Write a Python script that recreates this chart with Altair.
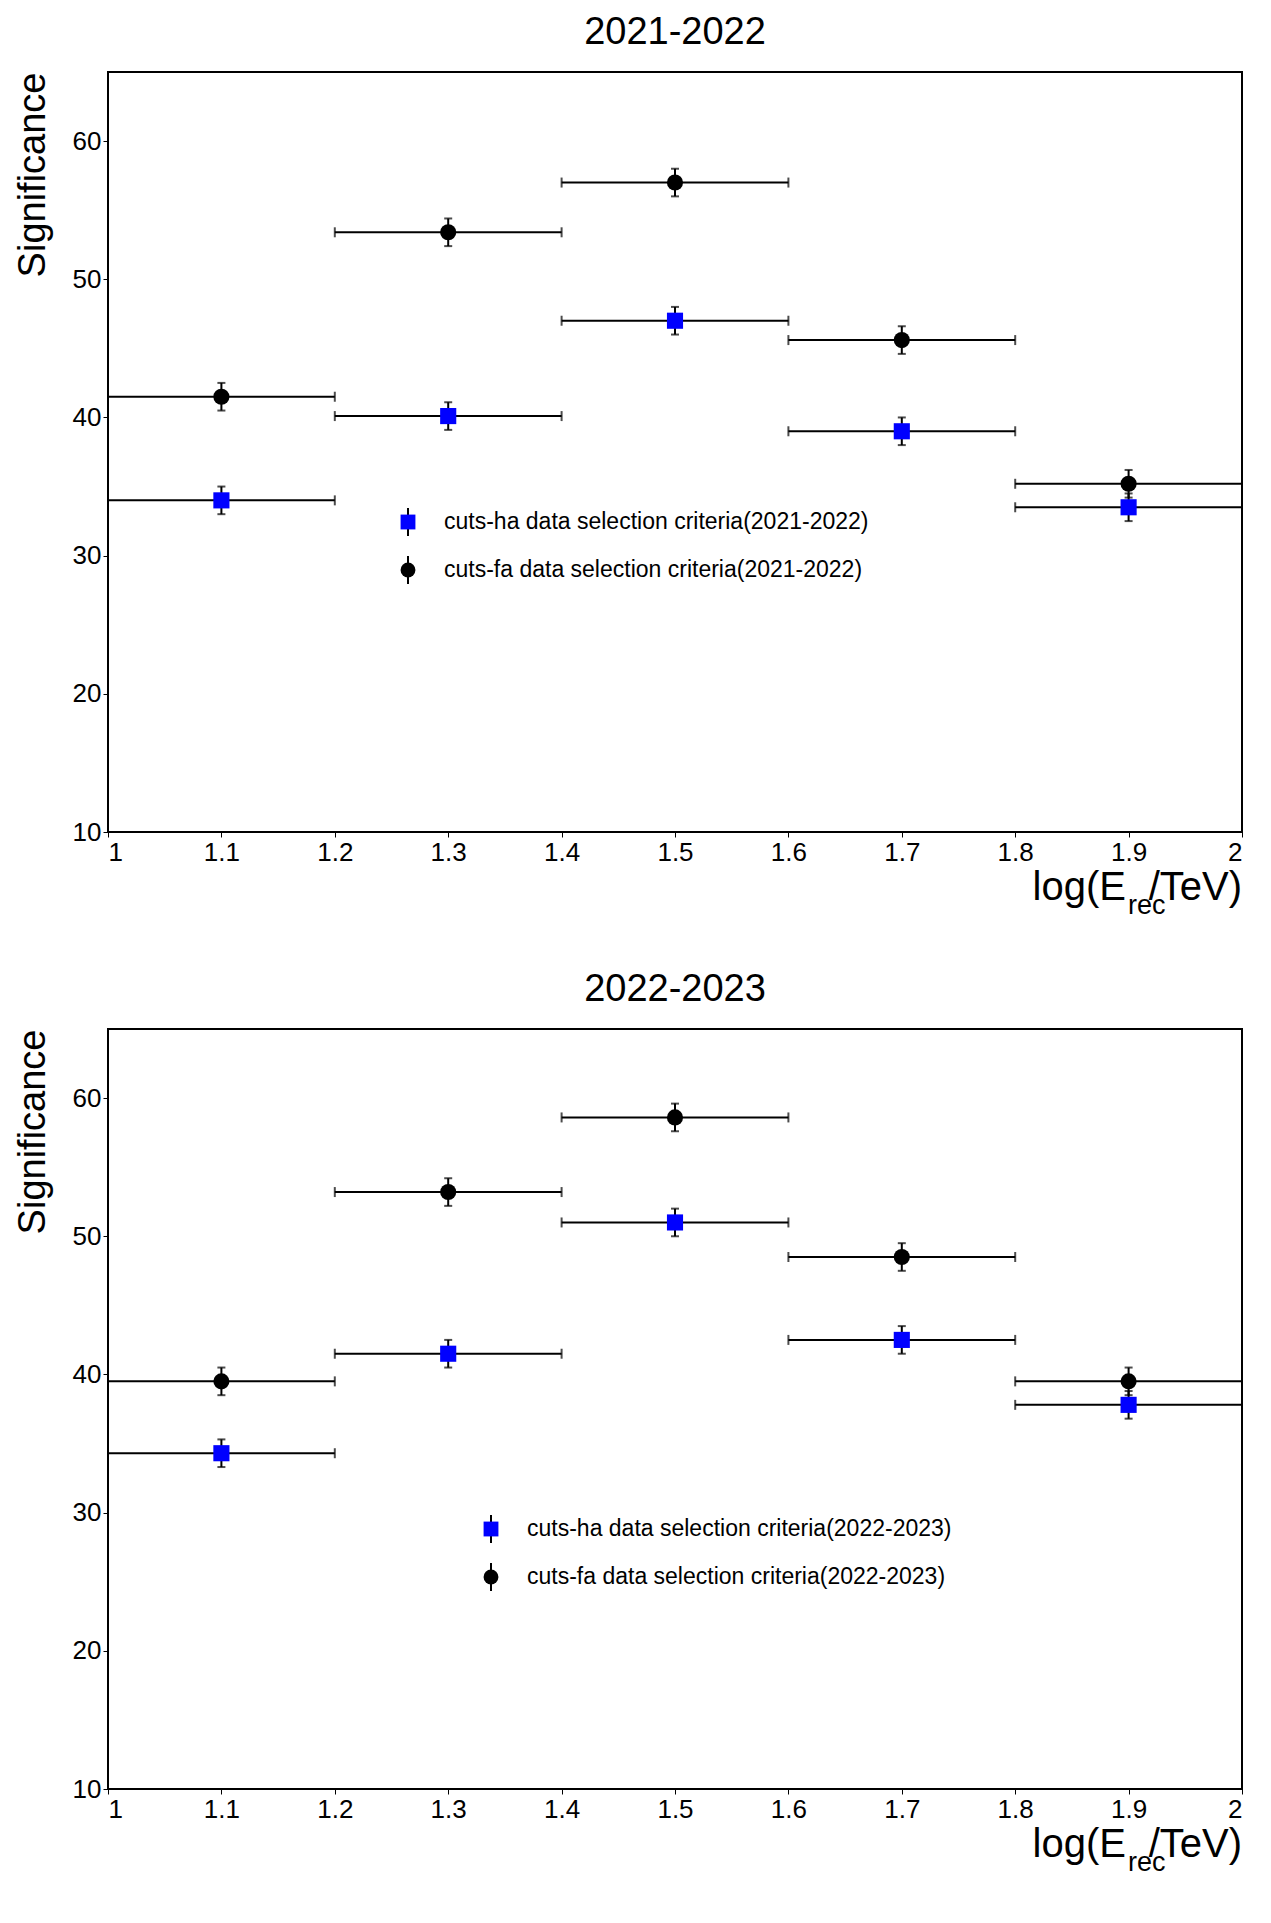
import altair as alt
import pandas as pd

energy = [1.1, 1.3, 1.5, 1.7, 1.9]
half_bin = 0.1
ha_2122 = [34.0, 40.1, 47.0, 39.0, 33.5]
fa_2122 = [41.5, 53.4, 57.0, 45.6, 35.2]
ha_2223 = [34.3, 41.5, 51.0, 42.5, 37.8]
fa_2223 = [39.5, 53.2, 58.6, 48.5, 39.5]
err = 1.0

W, H = 1134, 760


def panel(title, ha, fa, period, lx, ly):
    rows = []
    for name, vals in [("ha", ha), ("fa", fa)]:
        for e, v in zip(energy, vals):
            rows.append({"s": name, "x": e, "x0": e - half_bin, "x1": e + half_bin,
                         "y": v, "y0": v - err, "y1": v + err})
    df = pd.DataFrame(rows)
    base = alt.Chart(df)
    xs = alt.Scale(domain=[1, 2], nice=False)
    ys = alt.Scale(domain=[10, 65], nice=False)
    xax = alt.Axis(values=[1, 1.1, 1.2, 1.3, 1.4, 1.5, 1.6, 1.7, 1.8, 1.9, 2], format="~g",
                   title=None, grid=False, labelFontSize=26, labelColor="black",
                   tickColor="black", domainColor="black", labelFont="Liberation Sans")
    yax = alt.Axis(values=[10, 20, 30, 40, 50, 60], title="Significance", grid=False,
                   labelFontSize=26, titleFontSize=38, titleFontWeight="normal",
                   titleColor="black", labelColor="black", tickColor="black",
                   domainColor="black", labelFont="Liberation Sans",
                   titleFont="Liberation Sans", titlePadding=20, titleAnchor="end")
    color = alt.Color("s:N", scale=alt.Scale(domain=["ha", "fa"], range=["#0000ff", "black"]),
                      legend=None)
    shape = alt.Shape("s:N", scale=alt.Scale(domain=["ha", "fa"], range=["square", "circle"]),
                      legend=None)
    hbar = base.mark_rule(color="black", strokeWidth=2).encode(
        x=alt.X("x0:Q", scale=xs, axis=xax), x2="x1", y=alt.Y("y:Q", scale=ys, axis=yax))
    vbar = base.mark_rule(color="black", strokeWidth=2).encode(x="x:Q", y="y0:Q", y2="y1")
    capx0 = base.mark_tick(color="black", orient="vertical", size=10, thickness=2).encode(x="x0:Q", y="y:Q")
    capx1 = base.mark_tick(color="black", orient="vertical", size=10, thickness=2).encode(x="x1:Q", y="y:Q")
    capy0 = base.mark_tick(color="black", orient="horizontal", size=8, thickness=2).encode(x="x:Q", y="y0:Q")
    capy1 = base.mark_tick(color="black", orient="horizontal", size=8, thickness=2).encode(x="x:Q", y="y1:Q")
    pts = base.mark_point(filled=True, size=260, opacity=1).encode(
        x="x:Q", y="y:Q", color=color, shape=shape)

    leg = pd.DataFrame({"s": ["ha", "fa"],
                        "t": [f"cuts-ha data selection criteria({period})",
                              f"cuts-fa data selection criteria({period})"],
                        "py": [ly, ly + 48]})
    leg["py0"] = leg["py"] - 14
    leg["py1"] = leg["py"] + 14
    lb = alt.Chart(leg)
    lpt = lb.mark_point(filled=True, size=220, opacity=1).encode(
        x=alt.value(lx), y=alt.Y("py:Q", scale=None), color=color, shape=shape)
    lbar = lb.mark_rule(color="black", strokeWidth=2).encode(
        x=alt.value(lx), y=alt.Y("py0:Q", scale=None), y2=alt.Y2("py1:Q"))
    ltxt = lb.mark_text(align="left", baseline="middle", fontSize=23, font="Liberation Sans").encode(
        x=alt.value(lx + 36), y=alt.Y("py:Q", scale=None), text="t:N")

    one = pd.DataFrame({"a": [0]})
    xt1 = alt.Chart(one).mark_text(
        align="right", baseline="alphabetic", fontSize=40, font="Liberation Sans").encode(
        x=alt.value(W - 116), y=alt.value(H + 68), text=alt.value("log(E"))
    xt2 = alt.Chart(one).mark_text(
        align="left", baseline="alphabetic", fontSize=27, font="Liberation Sans").encode(
        x=alt.value(W - 114), y=alt.value(H + 82), text=alt.value("rec"))
    xt3 = alt.Chart(one).mark_text(
        align="right", baseline="alphabetic", fontSize=40, font="Liberation Sans").encode(
        x=alt.value(W), y=alt.value(H + 68), text=alt.value("/TeV)"))

    return alt.layer(hbar, vbar, capx0, capx1, capy0, capy1, pts, lbar, lpt, ltxt, xt1, xt2, xt3).properties(
        width=W, height=H,
        title=alt.TitleParams(title, fontSize=38, fontWeight="normal", font="Liberation Sans",
                              color="black", offset=20))


top = panel("2021-2022", ha_2122, fa_2122, "2021-2022", 300, 450)
bottom = panel("2022-2023", ha_2223, fa_2223, "2022-2023", 383, 500)

chart = alt.vconcat(top, bottom, spacing=50).configure(
    background="white", view=alt.ViewConfig(stroke="black", strokeWidth=2))
chart.save("out.html", embed_options={"renderer": "svg", "actions": False})
